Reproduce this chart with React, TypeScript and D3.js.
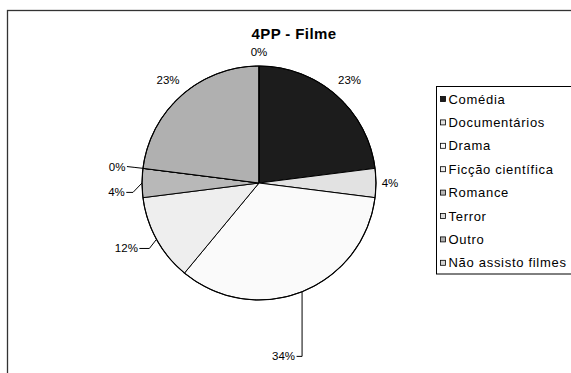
import React from "react";
import * as d3 from "d3";

// Share of answers per film genre (percent)
const categories = [
  "Comédia",
  "Documentários",
  "Drama",
  "Ficção científica",
  "Romance",
  "Terror",
  "Outro",
  "Não assisto filmes",
];
const shares = [23, 4, 34, 12, 4, 0, 23, 0];
const fills = ["#1c1c1c", "#e2e2e2", "#fafafa", "#eeeeee", "#b8b8b8", "#dadada", "#b0b0b0", "#d4d4d4"];

const title = "4PP - Filme";

// Label placement: direct labels sit at a radius; the crowded ones use leader lines
type LabelLayout =
  | { kind: "radial"; r: number }
  | { kind: "leader"; elbow: [number, number]; tail: [number, number] };

const labelLayouts: LabelLayout[] = [
  { kind: "radial", r: 137 },
  { kind: "radial", r: 131 },
  { kind: "leader", elbow: [0, 64.6], tail: [-5.5, 0] },
  { kind: "leader", elbow: [-7.1, 9.1], tail: [-10, 0] },
  { kind: "leader", elbow: [-9, 9.4], tail: [-6.7, 0] },
  { kind: "leader", elbow: [-8, -0.9], tail: [-8, -0.9] },
  { kind: "radial", r: 137.5 },
  { kind: "radial", r: 131 },
];

const W = 571;
const H = 373;
const cx = 259;
const cy = 183;
const R = 117;

export default function App() {
  const total = d3.sum(shares);
  const pie = d3
    .pie<number>()
    .sort(null)
    .value((d) => d);
  const arcs = pie(shares);
  const arcGen = d3.arc<d3.PieArcDatum<number>>().innerRadius(0).outerRadius(R);

  const fmt = (v: number) => `${Math.round((v / total) * 100)}%`;
  const font = "'Liberation Sans', Arial, sans-serif";

  const legendX = 436.5;
  const legendY = 86.5;
  const rowH = 23.4;

  return (
    <svg
      width={W}
      height={H}
      style={{ position: "absolute", left: 0, top: 0, background: "#fff", fontFamily: font }}
    >
      <rect x={7.5} y={10.5} width={W + 20} height={H + 20} fill="#fff" stroke="#333" strokeWidth={1.3} />

      <text
        x={294}
        y={39}
        textAnchor="middle"
        fontSize={15}
        fontWeight="bold"
        letterSpacing={0.4}
        fill="#000"
      >
        {title}
      </text>

      <g transform={`translate(${cx},${cy})`}>
        {arcs.map((a, i) => (
          <path key={i} d={arcGen(a) || ""} fill={fills[i]} stroke="#000" strokeWidth={1} strokeLinejoin="round" />
        ))}
        <circle r={R} fill="none" stroke="#000" strokeWidth={1.1} />

        {arcs.map((a, i) => {
          const mid = (a.startAngle + a.endAngle) / 2;
          const lay = labelLayouts[i];
          const label = fmt(shares[i]);
          if (lay.kind === "radial") {
            const x = Math.sin(mid) * lay.r;
            const y = -Math.cos(mid) * lay.r;
            return (
              <text key={i} x={x} y={y} dy="0.35em" textAnchor="middle" fontSize={11.5} fill="#000">
                {label}
              </text>
            );
          }
          const ex = Math.sin(mid) * R;
          const ey = -Math.cos(mid) * R;
          const bx = ex + lay.elbow[0];
          const by = ey + lay.elbow[1];
          const tx = bx + lay.tail[0];
          const ty = by + lay.tail[1];
          return (
            <g key={i}>
              <polyline points={`${ex},${ey} ${bx},${by} ${tx},${ty}`} fill="none" stroke="#000" strokeWidth={1} />
              <text x={tx - 1.5} y={ty} dy="0.35em" textAnchor="end" fontSize={11.5} fill="#000">
                {label}
              </text>
            </g>
          );
        })}
      </g>

      <rect x={legendX} y={legendY} width={W} height={187.5} fill="#fff" stroke="#000" strokeWidth={1} />
      {categories.map((c, i) => {
        const yc = 99 + i * rowH;
        return (
          <g key={c}>
            <rect x={440.5} y={yc - 2.5} width={5} height={5} fill={fills[i]} stroke="#000" strokeWidth={0.8} />
            <text x={448.5} y={yc} dy="0.36em" fontSize={13} letterSpacing={0.7} fill="#000">
              {c}
            </text>
          </g>
        );
      })}
    </svg>
  );
}
